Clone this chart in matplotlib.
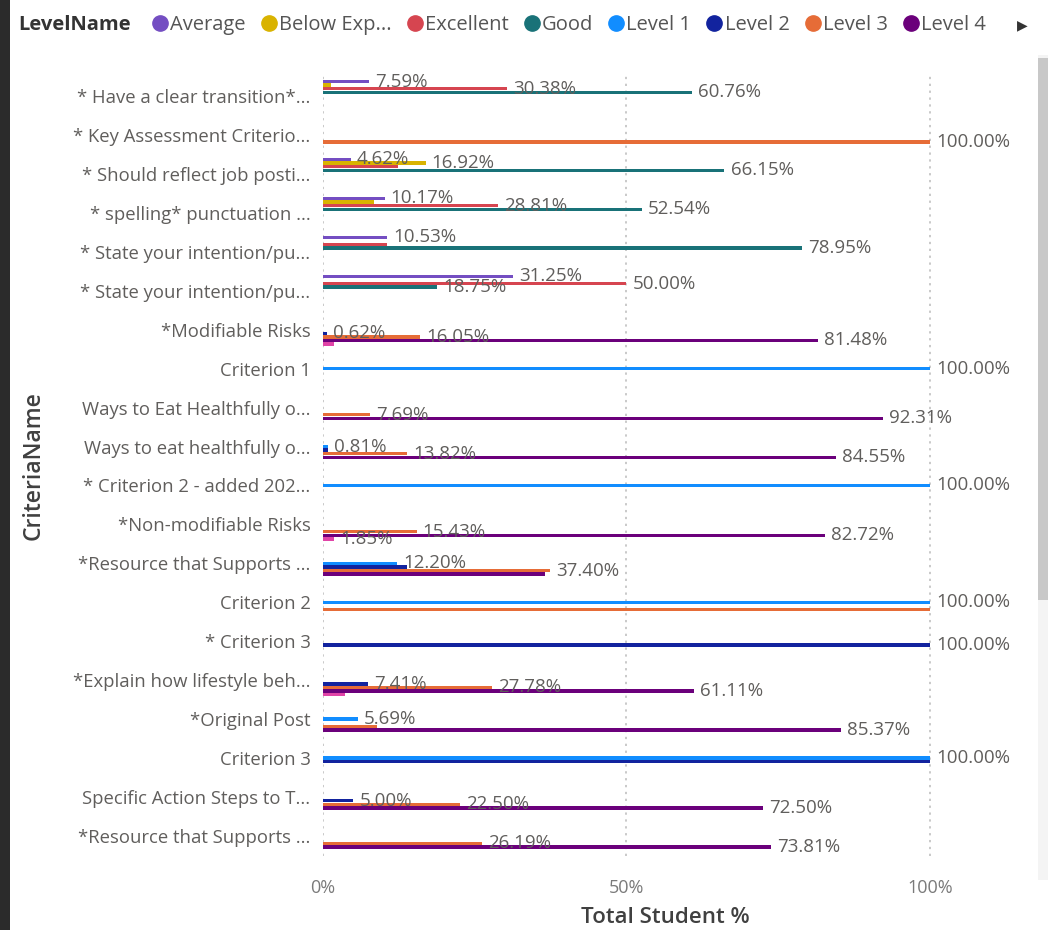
import matplotlib
matplotlib.use("Agg")
import matplotlib.pyplot as plt
from matplotlib.lines import Line2D
from matplotlib.patches import Rectangle
import numpy as np

plt.rcParams['font.family'] = ['Open Sans', 'DejaVu Sans']

# ---------------- data ----------------
categories = [
    "* Have a clear transition*...",
    "* Key Assessment Criterio...",
    "* Should reflect job posti...",
    "* spelling* punctuation ...",
    "* State your intention/pu...",
    "* State your intention/pu...",
    "*Modifiable Risks",
    "Criterion 1",
    "Ways to Eat Healthfully o...",
    "Ways to eat healthfully o...",
    "* Criterion 2 - added 202...",
    "*Non-modifiable Risks",
    "*Resource that Supports ...",
    "Criterion 2",
    "* Criterion 3",
    "*Explain how lifestyle beh...",
    "*Original Post",
    "Criterion 3",
    "Specific Action Steps to T...",
    "*Resource that Supports ...",
]

series_names = ["Average", "Below Expectations", "Excellent", "Good",
                "Level 1", "Level 2", "Level 3", "Level 4", "Level 5"]
series_colors = ["#744EC2", "#D9B300", "#D64550", "#197278",
                 "#118DFF", "#12239E", "#E66C37", "#6B007B", "#E044A7"]
legend_count = 8  # the legend is cut off after eight entries

average = [7.59, 0, 4.62, 10.17, 10.53, 31.25, 0, 0, 0, 0, 0, 0, 0, 0, 0, 0, 0, 0, 0, 0]
below_exp = [1.27, 0, 16.92, 8.47, 0, 0, 0, 0, 0, 0, 0, 0, 0, 0, 0, 0, 0, 0, 0, 0]
excellent = [30.38, 0, 12.31, 28.81, 10.53, 50.00, 0, 0, 0, 0, 0, 0, 0, 0, 0, 0, 0, 0, 0, 0]
good = [60.76, 0, 66.15, 52.54, 78.95, 18.75, 0, 0, 0, 0, 0, 0, 0, 0, 0, 0, 0, 0, 0, 0]
level1 = [0, 0, 0, 0, 0, 0, 0, 100.00, 0, 0.81, 100.00, 0, 12.20, 100.00, 0, 0, 5.69, 100.00, 0, 0]
level2 = [0, 0, 0, 0, 0, 0, 0.62, 0, 0, 0.81, 0, 0, 13.82, 0, 100.00, 7.41, 0, 100.00, 5.00, 0]
level3 = [0, 100.00, 0, 0, 0, 0, 16.05, 0, 7.69, 13.82, 0, 15.43, 37.40, 100.00, 0, 27.78, 8.94, 0, 22.50, 26.19]
level4 = [0, 0, 0, 0, 0, 0, 81.48, 0, 92.31, 84.55, 0, 82.72, 36.59, 0, 0, 61.11, 85.37, 0, 72.50, 73.81]
level5 = [0, 0, 0, 0, 0, 0, 1.85, 0, 0, 0, 0, 1.85, 0, 0, 0, 3.70, 0, 0, 0, 0]

series_values = [average, below_exp, excellent, good, level1, level2, level3, level4, level5]

x_ticks = [0, 50, 100]
x_tick_labels = ["0%", "50%", "100%"]

# ---------------- figure ----------------
W, H = 1051, 930
fig = plt.figure(figsize=(W / 100, H / 100), dpi=100)
fig.patch.set_facecolor("white")

left_px, right_px, top_px, bottom_px = 323, 1007, 76.5, 855.5
ax = fig.add_axes([left_px / W, 1 - bottom_px / H, (right_px - left_px) / W, (bottom_px - top_px) / H])

n_cat = len(categories)
n_ser = len(series_names)
y = np.arange(n_cat)
step = 0.0925
bar_h = 0.088
xmax = 112.7

label_color = "#605E5C"
texts_by_cat = [[] for _ in range(n_cat)]
for j, (vals, col) in enumerate(zip(series_values, series_colors)):
    offs = (j - (n_ser - 1) / 2) * step
    vals = np.array(vals, dtype=float)
    ax.barh(y + offs, vals, height=bar_h, color=col, zorder=3, linewidth=0)
    for i, v in enumerate(vals):
        if v > 0:
            t = ax.text(v + 1.0, y[i] + offs, f"{v:.2f}%", va="center", ha="left",
                        fontsize=13.5, color=label_color, zorder=5, clip_on=False)
            texts_by_cat[i].append(t)

ax.set_xlim(0, xmax)
ax.set_ylim(n_cat - 0.5, -0.5)
ax.set_yticks(y)
ax.set_yticklabels(categories, fontsize=13.3, color=label_color)
ax.set_xticks(x_ticks)
ax.set_xticklabels(x_tick_labels, fontsize=13, color="#7A7A7A")
ax.tick_params(axis="both", length=0)
ax.tick_params(axis="y", pad=9)
ax.tick_params(axis="x", pad=17)
for s in ax.spines.values():
    s.set_visible(False)
ax.grid(axis="x", linestyle=(0, (1.5, 3)), color="#BBBBBB", linewidth=1.1, zorder=0)
ax.set_axisbelow(True)
ax.set_xlabel("Total Student %", fontsize=16, color="#404040", fontweight="semibold", labelpad=7)
ax.set_ylabel("CriteriaName", fontsize=16.5, color="#404040", fontweight="semibold", labelpad=20)

# hide overlapping data labels (first come, first kept)
fig.canvas.draw()
renderer = fig.canvas.get_renderer()
for tl in texts_by_cat:
    kept = []
    for t in tl:
        bb = t.get_window_extent(renderer)
        if any(bb.x0 < k.x1 and k.x0 < bb.x1 for k in kept):
            t.set_visible(False)
        else:
            kept.append(bb)

# ---------------- legend ----------------
fig.text(18 / W, 1 - 25 / H, "LevelName", fontsize=14.5, fontweight="bold",
         color="#333333", va="center", ha="left")
handles = [Line2D([0], [0], marker="o", linestyle="none", markersize=11,
                  markerfacecolor=c, markeredgecolor=c) for c in series_colors[:legend_count]]
labels = [(n if len(n) <= 10 else n[:9] + "...") for n in series_names[:legend_count]]
fig.legend(handles, labels, loc="center left", bbox_to_anchor=(146 / W, 1 - 25 / H),
           ncol=legend_count, frameon=False, fontsize=14.5, handletextpad=-0.2,
           handlelength=1.4, columnspacing=0.45, borderaxespad=0, borderpad=0,
           labelcolor="#555555")
fig.text(1022 / W, 1 - 25 / H, "\u25B6", fontsize=10, color="#333333",
         va="center", ha="center", family=["DejaVu Sans"])

# frame decorations: dark left edge and scrollbar
fig.patches.append(Rectangle((0, 0), 10 / W, 1, transform=fig.transFigure,
                             facecolor="#2B2B2B", edgecolor="none"))
fig.patches.append(Rectangle((1038 / W, 1 - 880 / H), 10 / W, (880 - 55) / H,
                             transform=fig.transFigure, facecolor="#F4F4F4", edgecolor="none"))
fig.patches.append(Rectangle((1038 / W, 1 - 600 / H), 10 / W, (600 - 58) / H,
                             transform=fig.transFigure, facecolor="#C8C8C8", edgecolor="none"))

fig.savefig("out.png", dpi=100, facecolor="white")
